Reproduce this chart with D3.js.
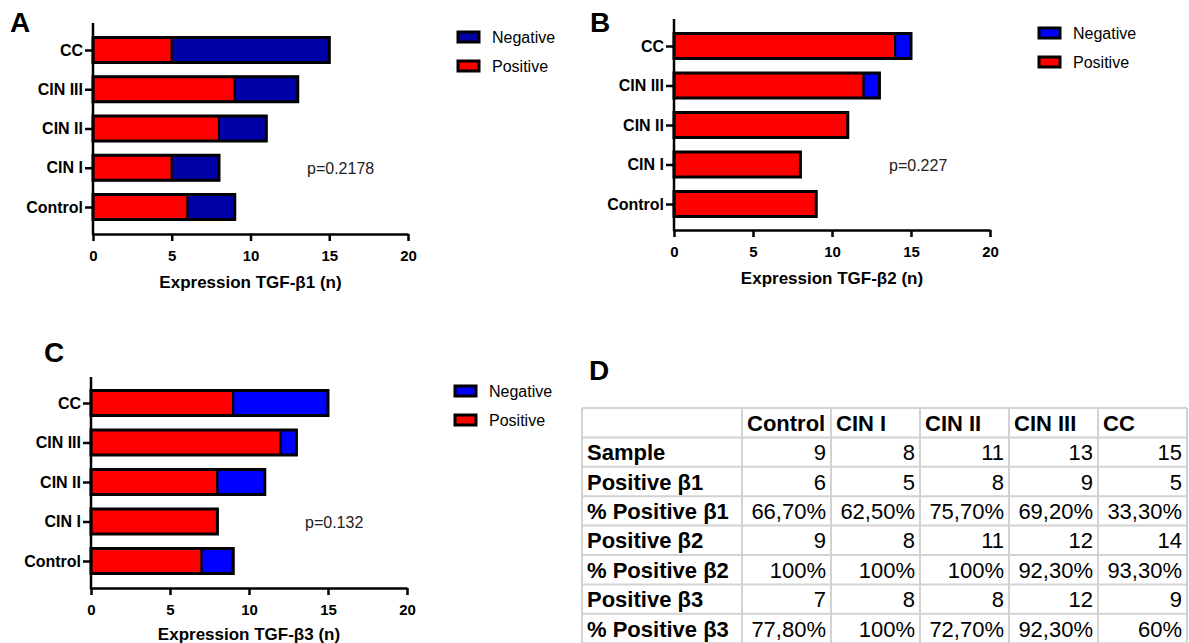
<!DOCTYPE html>
<html>
<head>
<meta charset="utf-8">
<script src="https://cdn.jsdelivr.net/npm/d3@7"></script>
<style>
body { margin: 0; background: #fff; }
svg { display: block; font-family: "Liberation Sans", Arial, sans-serif; }
.tick text { font-weight: bold; font-size: 15px; fill: #000; }
.ycat .tick text { font-size: 16px; }
.cell { font-size: 22px; fill: #000; }
</style>
</head>
<body>
<svg id="fig" width="1189" height="643"></svg>
<script>
// data
const categories = ["Control", "CIN I", "CIN II", "CIN III", "CC"];
const sampleN = [9, 8, 11, 13, 15];
const posB1 = [6, 5, 8, 9, 5];
const negB1 = [3, 3, 3, 4, 10];
const posB2 = [9, 8, 11, 12, 14];
const negB2 = [0, 0, 0, 1, 1];
const posB3 = [7, 8, 8, 12, 9];
const negB3 = [2, 0, 3, 1, 6];
const pctB1 = ["66,70%", "62,50%", "75,70%", "69,20%", "33,30%"];
const pctB2 = ["100%", "100%", "100%", "92,30%", "93,30%"];
const pctB3 = ["77,80%", "100%", "72,70%", "92,30%", "60%"];
const xTicks = [0, 5, 10, 15, 20];
const pValues = ["p=0.2178", "p=0.227", "p=0.132"];
const legendKeys = ["Negative", "Positive"];

const svg = d3.select("#fig");
const RED = "#ff0000";

function stacked_bar(ax) {
  const g = svg.append("g");
  const x = d3.scaleLinear().domain([0, 20]).range([ax.left, ax.right]);
  const y = d3.scalePoint().domain(categories.slice().reverse()).range([ax.yTop, ax.yBottom]);
  const bh = 25;

  const rows = categories.map((c, i) => ({ cat: c, pos: ax.pos[i], neg: ax.neg[i] }));

  // positive segment
  g.selectAll(".pos").data(rows).join("rect")
    .attr("x", d => x(0)).attr("y", d => y(d.cat) - bh / 2)
    .attr("width", d => x(d.pos) - x(0)).attr("height", bh)
    .attr("fill", RED).attr("stroke", "#000").attr("stroke-width", 2);

  // negative segment
  g.selectAll(".neg").data(rows.filter(d => d.neg > 0)).join("rect")
    .attr("x", d => x(d.pos)).attr("y", d => y(d.cat) - bh / 2)
    .attr("width", d => x(d.pos + d.neg) - x(d.pos)).attr("height", bh)
    .attr("fill", ax.negColor).attr("stroke", "#000").attr("stroke-width", 2);

  // outer border
  g.selectAll(".outline").data(rows).join("rect")
    .attr("x", d => x(0)).attr("y", d => y(d.cat) - bh / 2)
    .attr("width", d => x(d.pos + d.neg) - x(0)).attr("height", bh)
    .attr("fill", "none").attr("stroke", "#000").attr("stroke-width", 3);

  // x axis
  const xa = g.append("g").attr("transform", `translate(0,${ax.axisY})`)
    .call(d3.axisBottom(x).tickValues(xTicks).tickSize(7).tickSizeOuter(0).tickPadding(9));
  xa.select(".domain").attr("stroke-width", 2.5);
  xa.selectAll(".tick line").attr("stroke-width", 2.5);

  // y axis
  const ya = g.append("g").attr("class", "ycat").attr("transform", `translate(${ax.left},0)`)
    .call(d3.axisLeft(y).tickSize(8).tickSizeOuter(0).tickPadding(2));
  ya.select(".domain").remove();
  ya.selectAll(".tick line").attr("stroke-width", 2.5);
  g.append("line")
    .attr("x1", ax.left).attr("x2", ax.left)
    .attr("y1", ax.top).attr("y2", ax.axisY + 1.25)
    .attr("stroke", "#000").attr("stroke-width", 2.5);

  // axis title
  g.append("text")
    .attr("x", (ax.left + ax.right) / 2).attr("y", ax.titleY)
    .attr("text-anchor", "middle").attr("font-weight", "bold").attr("font-size", 17)
    .text(ax.title);

  // p value
  g.append("text").attr("x", ax.pX).attr("y", ax.pY + 6)
    .attr("font-size", 16).attr("fill", "#222").text(ax.p);

  // panel letter
  g.append("text").attr("x", ax.letterX).attr("y", ax.letterY)
    .attr("font-weight", "bold").attr("font-size", 28).text(ax.letter);

  // legend
  const lg = g.selectAll(".leg").data(legendKeys).join("g")
    .attr("transform", (d, i) => `translate(${ax.legX},${ax.legY + i * 29})`);
  lg.append("rect").attr("x", 0).attr("y", -5).attr("width", 21).attr("height", 10)
    .attr("fill", d => d === "Negative" ? ax.negColor : RED)
    .attr("stroke", "#000").attr("stroke-width", 3);
  lg.append("text").attr("x", 34).attr("y", 6).attr("font-size", 16).text(d => d);
}

stacked_bar({ letter: "A", pos: posB1, neg: negB1, negColor: "#0000a8",
  left: 93, right: 408, top: 23, axisY: 234, yTop: 50, yBottom: 207,
  titleY: 288, title: "Expression TGF-\u03b21 (n)", p: pValues[0], pX: 307, pY: 168,
  letterX: 10, letterY: 32, legX: 458, legY: 37 });

stacked_bar({ letter: "B", pos: posB2, neg: negB2, negColor: "#0000ff",
  left: 674, right: 990, top: 19, axisY: 230, yTop: 46, yBottom: 204,
  titleY: 284, title: "Expression TGF-\u03b22 (n)", p: pValues[1], pX: 889, pY: 165,
  letterX: 590, letterY: 32, legX: 1039, legY: 33 });

stacked_bar({ letter: "C", pos: posB3, neg: negB3, negColor: "#0000ff",
  left: 91, right: 407, top: 377, axisY: 588, yTop: 403, yBottom: 561,
  titleY: 640, title: "Expression TGF-\u03b23 (n)", p: pValues[2], pX: 305, pY: 522,
  letterX: 44, letterY: 362, legX: 455, legY: 391 });

// panel D: table
svg.append("text").attr("x", 589).attr("y", 380)
  .attr("font-weight", "bold").attr("font-size", 28).text("D");

const header = [""].concat(categories);
const tableRows = [
  ["Sample"].concat(sampleN),
  ["Positive \u03b21"].concat(posB1),
  ["% Positive \u03b21"].concat(pctB1),
  ["Positive \u03b22"].concat(posB2),
  ["% Positive \u03b22"].concat(pctB2),
  ["Positive \u03b23"].concat(posB3),
  ["% Positive \u03b23"].concat(pctB3)
];
const colEdges = [582, 742, 831, 920, 1009, 1098, 1187];
const tTop = 408, rowH = 29.4;
const allRows = [header].concat(tableRows);
const tbl = svg.append("g");

// grid lines
tbl.selectAll(".hl").data(d3.range(allRows.length + 1)).join("line")
  .attr("x1", colEdges[0]).attr("x2", colEdges[colEdges.length - 1])
  .attr("y1", i => tTop + i * rowH).attr("y2", i => tTop + i * rowH)
  .attr("stroke", "#d2d2d2").attr("stroke-width", 2);
tbl.selectAll(".vl").data(colEdges).join("line")
  .attr("x1", d => d).attr("x2", d => d)
  .attr("y1", tTop).attr("y2", tTop + allRows.length * rowH)
  .attr("stroke", "#d2d2d2").attr("stroke-width", 2);

allRows.forEach((row, r) => {
  const cy = tTop + r * rowH + rowH / 2 + 8;
  row.forEach((v, c) => {
    const t = tbl.append("text").attr("class", "cell").attr("y", cy).text(v);
    if (r === 0 || c === 0) {
      t.attr("x", colEdges[c] + 5).attr("font-weight", "bold");
    } else {
      t.attr("x", colEdges[c + 1] - 5).attr("text-anchor", "end");
    }
  });
});
</script>
</body>
</html>
